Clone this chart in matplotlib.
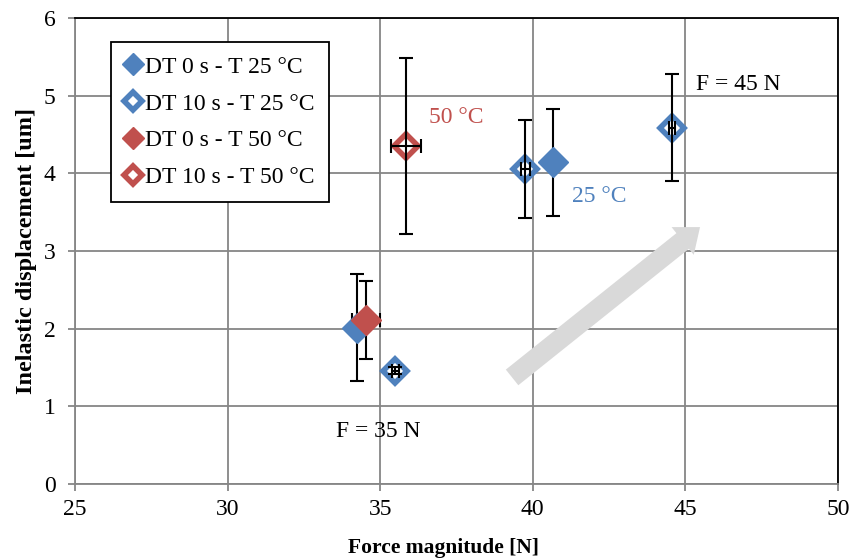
import numpy as np
import matplotlib.pyplot as plt

plt.rcParams['font.family'] = ['Liberation Serif', 'DejaVu Serif']

# DT 0 s - T 25 C
f_0_25 = [34.25, 40.65]
d_0_25 = [2.01, 4.14]
dy_0_25 = [0.69, 0.69]

# DT 10 s - T 25 C
f_10_25 = [35.5, 39.75, 44.55]
d_10_25 = [1.46, 4.06, 4.59]
dy_10_25 = [0.05, 0.63, 0.69]
dx_10_25 = [0.1, 0.15, 0.1]

# DT 0 s - T 50 C
f_0_50 = [34.53]
d_0_50 = [2.11]
dy_0_50 = [0.5]
dx_0_50 = [0.47]

# DT 10 s - T 50 C
f_10_50 = [35.85]
d_10_50 = [4.35]
dy_10_50 = [1.13]
dx_10_50 = [0.5]

blue = '#4f81bd'
red = '#c0504d'
grid_c = '#868686'

fig = plt.figure(figsize=(8.52, 5.6), dpi=100)
ax = fig.add_axes([75/852, 1-484/560, (838-75)/852, (484-18)/560])
ax.set_xlim(25, 50)
ax.set_ylim(0, 6)
ax.set_xticks(np.arange(25, 51, 5))
ax.set_yticks(np.arange(0, 7, 1))
ax.grid(True, color=grid_c, linewidth=1.3, zorder=0)
ax.set_axisbelow(True)
for s in ['left', 'bottom']:
    ax.spines[s].set_color(grid_c)
    ax.spines[s].set_linewidth(1.3)
for s in ['top', 'right']:
    ax.spines[s].set_color('black')
    ax.spines[s].set_linewidth(1.3)
ax.tick_params(axis='both', colors=grid_c, labelcolor='black', labelsize=17,
               length=5, width=1.3)
ax.tick_params(axis='x', pad=6)
ax.tick_params(axis='y', pad=9)

ax.set_xlabel('Force magnitude [N]', fontsize=15.5, fontweight='bold', labelpad=13)
ax.xaxis.label.set_x((443-75)/763)
ax.set_ylabel('Inelastic displacement [um]', fontsize=17.5, fontweight='bold', labelpad=5)

ebkw = dict(fmt='none', ecolor='black', elinewidth=1.5, capsize=5, capthick=1.5)

# solid markers: error bars behind
ax.errorbar(f_0_25, d_0_25, yerr=dy_0_25, zorder=3, **ebkw)
ax.errorbar(f_0_50, d_0_50, yerr=dy_0_50, xerr=dx_0_50, zorder=3, **ebkw)
h1, = ax.plot(f_0_25, d_0_25, 'D', color=blue, markersize=15, linestyle='none', zorder=4)
h3, = ax.plot(f_0_50, d_0_50, 'D', color=red, markersize=15, linestyle='none', zorder=4)

# open markers: error bars on top
h2, = ax.plot(f_10_25, d_10_25, 'D', mfc='white', mec=blue, mew=4, markersize=12.5,
              linestyle='none', zorder=4)
h4, = ax.plot(f_10_50, d_10_50, 'D', mfc='white', mec=red, mew=4, markersize=12.5,
              linestyle='none', zorder=4)
ax.errorbar(f_10_25, d_10_25, yerr=dy_10_25, xerr=dx_10_25, zorder=5, **ebkw)
ax.errorbar(f_10_50, d_10_50, yerr=dy_10_50, xerr=dx_10_50, zorder=5, **ebkw)

# trend arrow
ax.annotate('', xy=(45.55, 3.33), xytext=(39.25, 1.35),
            arrowprops=dict(arrowstyle='simple,head_length=1.0,head_width=1.6,tail_width=0.9',
                            color='#d9d9d9', lw=0, mutation_scale=16),
            zorder=2)

ax.text(36.6, 4.72, '50 °C', color=red, fontsize=17, va='center')
ax.text(41.3, 3.70, '25 °C', color=blue, fontsize=17, va='center')
ax.text(45.35, 5.15, 'F = 45 N', color='black', fontsize=17, va='center')
ax.text(33.55, 0.68, 'F = 35 N', color='black', fontsize=17, va='center')

leg = ax.legend([h1, h2, h3, h4],
                ['DT 0 s - T 25 °C', 'DT 10 s - T 25 °C', 'DT 0 s - T 50 °C', 'DT 10 s - T 50 °C'],
                loc='upper left', bbox_to_anchor=((111-75)/763, (484-42)/466),
                fontsize=17, frameon=True, fancybox=False, edgecolor='black',
                handlelength=0.7, handletextpad=0.15, labelspacing=0.65,
                borderpad=0.6, markerscale=0.75, borderaxespad=0)
leg.get_frame().set_linewidth(1.3)
leg.get_frame().set_alpha(1)
leg.set_zorder(6)

fig.savefig('out.png', dpi=100)
